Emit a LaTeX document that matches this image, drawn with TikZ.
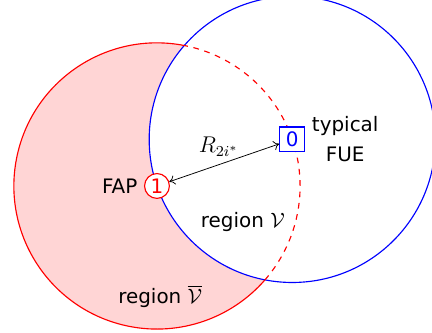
\documentclass[tikz,border=0pt]{standalone}
\usepackage{amsmath}
\usepackage{fontspec}
\setsansfont{DejaVu Sans}
\usetikzlibrary{positioning,arrows.meta}
\definecolor{regionFill}{RGB}{255,213,213}

\begin{document}
\begin{tikzpicture}[
  every node/.style={font=\fontsize{10.5}{16}\selectfont\sffamily},
  fapnode/.style={circle, draw=red, text=red, fill=white, minimum size=0.46cm, inner sep=0pt, semithick},
  fuenode/.style={rectangle, draw=blue, text=blue, fill=white, minimum size=0.46cm, inner sep=0pt, semithick},
  labeltext/.style={align=center},
  rangearrow/.style={{To[length=3pt,width=5pt]}-{To[length=3pt,width=5pt]}, black},
]
% fixed frame
\useasboundingbox (-2.907,-2.722) rectangle (5.093,3.444);

% nodes
\coordinate (fapc) at (0,0);
\coordinate (fuec) at (19:2.65);

% region V-bar shading
\fill[regionFill] (fapc) circle (2.65);
\fill[white] (fuec) circle (2.65);

% coverage circles
\draw[blue, semithick] (fuec) circle (2.65);
\draw[red, semithick] (fapc) ++(79:2.65) arc[start angle=79, end angle=319, radius=2.65];
\draw[red, semithick, dashed] (fapc) ++(-41:2.65) arc[start angle=-41, end angle=79, radius=2.65];

\node[fapnode] (fap) at (fapc) {1};
\node[fuenode] (fue) at (fuec) {0};

\node[labeltext, left=0pt of fap] (faplabel) {FAP};
\node[labeltext, right=0pt of fue] (fuelabel) {typical\\FUE};

% distance
\draw[rangearrow] (fap) -- (fue)
  node[pos=0.45, above=1pt, font=\large] {$R_{2i^*}$};

% region labels
\node[labeltext] (regV) at (1.59,-0.66) {region $\mathcal{V}$};
\node[labeltext] (regVbar) at (0.06,-2.04) {region $\overline{\mathcal{V}}$};
\end{tikzpicture}
\end{document}
